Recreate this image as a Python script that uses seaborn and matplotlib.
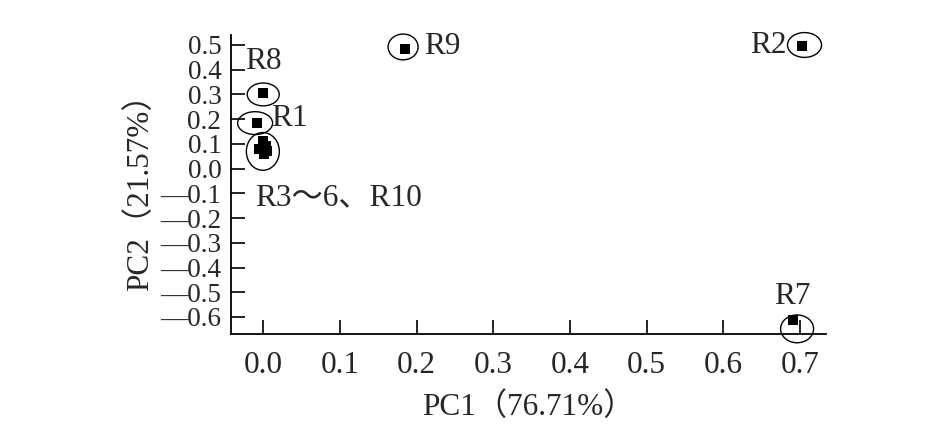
import matplotlib
matplotlib.use("Agg")
import matplotlib.pyplot as plt
from matplotlib.patches import Ellipse
import seaborn as sns

# DATA
samples = ["R1", "R2", "R3", "R4", "R5", "R6", "R7", "R8", "R9", "R10"]
pc1 = [-0.008, 0.702, 0.000, 0.004, -0.006, 0.001, 0.691, 0.000, 0.185, 0.005]
pc2 = [0.184, 0.496, 0.110, 0.090, 0.078, 0.058, -0.612, 0.304, 0.484, 0.072]

x_ticks = [0.0, 0.1, 0.2, 0.3, 0.4, 0.5, 0.6, 0.7]
y_ticks = [0.5, 0.4, 0.3, 0.2, 0.1, 0.0, -0.1, -0.2, -0.3, -0.4, -0.5, -0.6]

x_label = "PC1（76.71%）"
y_label = "PC2（21.57%）"

# groups circled on the chart: (label, members)
groups = [
    ("R1", ["R1"]),
    ("R2", ["R2"]),
    ("R7", ["R7"]),
    ("R8", ["R8"]),
    ("R9", ["R9"]),
    ("R3～6、R10", ["R3", "R4", "R5", "R6", "R10"]),
]

sns.set_theme(style="white")
plt.rcParams["font.family"] = ["Liberation Serif", "Noto Sans CJK SC"]

FS = 22.5
FS_Y = 19.5

fig = plt.figure(figsize=(9.43, 4.28), dpi=100)
ax = fig.add_axes([0.245, 0.2196, 0.631, 0.6984])

sns.scatterplot(x=pc1, y=pc2, marker="s", s=50, color="black",
                edgecolor="black", linewidth=0, ax=ax)

# pixel -> data scale factors (x: 767 px per unit, y: 249 px per unit)
px_x, px_y = 1 / 767, 1 / 249
# ellipse: (offset dx, dy in px, width, height in px), label offset, alignment
ell_style = {
    "R1":  ((-2, 0), 35, 23, (0.018, 0.02), "left"),
    "R2":  ((3, 1), 34, 25, (-0.020, 0.0), "right"),
    "R7":  ((4, -9), 33, 28, (-0.001, 0.095), "center"),
    "R8":  ((0, -1), 32, 23, (0.0, 0.13), "center"),
    "R9":  ((-2, 2), 30, 26, (0.025, 0.01), "left"),
    "R3～6、R10": ((-1, -3), 33, 38, (-0.012, -0.20), "left"),
}
for label, members in groups:
    idx = [samples.index(m) for m in members]
    cx = sum(pc1[i] for i in idx) / len(idx)
    cy = sum(pc2[i] for i in idx) / len(idx)
    (dx, dy), w, h, (tx, ty), ha = ell_style[label]
    ecx, ecy = cx + dx * px_x, cy + dy * px_y
    ax.add_patch(Ellipse((ecx, ecy), w * px_x, h * px_y, fill=False,
                         edgecolor="black", linewidth=1.0, clip_on=False))
    ax.text(cx + tx, cy + ty, label, ha=ha, va="center", fontsize=FS)

ax.set_xlim(-0.042, 0.734)
ax.set_ylim(-0.669, 0.54)
ax.set_xticks(x_ticks)
ax.set_xticklabels([f"{v:.1f}" for v in x_ticks])
ax.set_yticks(y_ticks)
ax.set_yticklabels([f"{v:.1f}".replace("-", "\u2014") for v in y_ticks])
ax.tick_params(axis="both", direction="in", length=10, width=1.2,
               color="black", bottom=True, left=True)
ax.tick_params(axis="x", pad=12, labelsize=FS)
ax.tick_params(axis="y", pad=7, labelsize=FS_Y)
for side in ["top", "right"]:
    ax.spines[side].set_visible(False)
for side in ["left", "bottom"]:
    ax.spines[side].set_color("black")
    ax.spines[side].set_linewidth(1.3)

ax.set_xlabel(x_label, fontsize=FS, labelpad=9)
ax.set_ylabel(y_label, fontsize=FS, labelpad=4)

fig.savefig("out.png", dpi=100, facecolor="white")
